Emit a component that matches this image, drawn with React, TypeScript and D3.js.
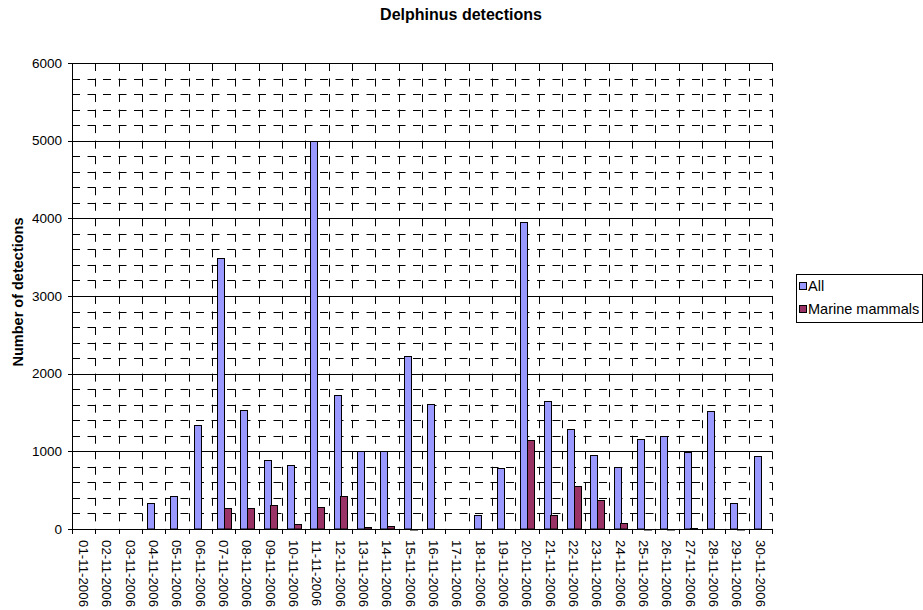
import React from 'react';
import * as d3 from 'd3';

// Daily detection counts, November 2006
const dates = [
  '01-11-2006', '02-11-2006', '03-11-2006', '04-11-2006', '05-11-2006',
  '06-11-2006', '07-11-2006', '08-11-2006', '09-11-2006', '10-11-2006',
  '11-11-2006', '12-11-2006', '13-11-2006', '14-11-2006', '15-11-2006',
  '16-11-2006', '17-11-2006', '18-11-2006', '19-11-2006', '20-11-2006',
  '21-11-2006', '22-11-2006', '23-11-2006', '24-11-2006', '25-11-2006',
  '26-11-2006', '27-11-2006', '28-11-2006', '29-11-2006', '30-11-2006',
];
const seriesNames = ['All', 'Marine mammals'];
const allDetections = [
  0, 0, 0, 330, 420, 1340, 3490, 1530, 890, 820,
  5000, 1720, 1000, 1000, 2230, 1610, 0, 175, 785, 3955,
  1650, 1290, 955, 800, 1160, 1195, 990, 1515, 335, 940,
];
const marineMammals = [
  0, 0, 0, 0, 0, 0, 265, 265, 310, 60,
  280, 430, 25, 40, 5, 0, 0, 0, 0, 1145,
  180, 550, 375, 80, 3, 3, 18, 0, 2, 0,
];
const yTicks = [0, 1000, 2000, 3000, 4000, 5000, 6000];
const seriesColors = ['#9999FF', '#993366'];

const FONT = '"Liberation Sans", Arial, sans-serif';

export default function App() {
  const width = 923;
  const height = 610;
  const plot = { left: 72, right: 772, top: 63, bottom: 529 };

  const x = d3.scaleBand<string>().domain(dates).range([plot.left, plot.right]);
  const band = x.bandwidth();
  const barW = band / 3.5;
  const xs = d3
    .scaleBand<string>()
    .domain(seriesNames)
    .range([barW * 0.75, barW * 2.75]);
  const y = d3.scaleLinear().domain([0, 6000]).range([plot.bottom, plot.top]);

  const minorTicks = d3.range(200, 6000, 200).filter((v) => v % 1000 !== 0);
  const boundaries = d3.range(1, dates.length + 1).map((i) => plot.left + i * band);
  const tickBoundaries = d3.range(0, dates.length + 1).map((i) => plot.left + i * band);

  const series = [allDetections, marineMammals];

  const legend = { x: 796.5, y: 274.5, w: 126, h: 48, row: 23.3, base: 290.7 };

  return (
    <svg
      width={width}
      height={height}
      style={{ position: 'absolute', left: 0, top: 0, background: '#fff' }}
      fontFamily={FONT}
    >
      {/* title */}
      <text x={461} y={20} textAnchor="middle" fontSize={16} fontWeight="bold" fill="#000">
        Delphinus detections
      </text>

      {/* minor horizontal grid */}
      {minorTicks.map((v) => (
        <line
          key={'mh' + v}
          x1={plot.left}
          x2={plot.right}
          y1={Math.round(y(v)) + 0.5}
          y2={Math.round(y(v)) + 0.5}
          stroke="#000"
          strokeWidth={1}
          strokeDasharray="8 7.5"
        />
      ))}
      {/* vertical category grid */}
      {boundaries.map((bx, i) => (
        <line
          key={'vg' + i}
          x1={Math.round(bx) + 0.5}
          x2={Math.round(bx) + 0.5}
          y1={plot.top}
          y2={plot.bottom}
          stroke="#000"
          strokeWidth={1}
          strokeDasharray="8 7.53"
        />
      ))}
      {/* major horizontal grid */}
      {yTicks.slice(1).map((v) => (
        <line
          key={'mj' + v}
          x1={plot.left}
          x2={plot.right}
          y1={Math.round(y(v)) + 0.5}
          y2={Math.round(y(v)) + 0.5}
          stroke="#000"
          strokeWidth={1}
        />
      ))}

      {/* bars */}
      {series.map((vals, si) =>
        vals.map((v, i) => {
          if (v <= 0) return null;
          const bx = Math.round((x(dates[i]) as number) + (xs(seriesNames[si]) as number)) + 0.5;
          const w = Math.round(xs.bandwidth());
          const top = Math.round(y(v)) + 0.5;
          const h = Math.max(y(0) - top, 0.5);
          return (
            <rect
              key={`b${si}-${i}`}
              x={bx}
              y={top}
              width={w}
              height={h}
              fill={seriesColors[si]}
              stroke="#000"
              strokeWidth={1}
            />
          );
        })
      )}

      {/* y axis */}
      <line
        x1={plot.left + 0.5}
        x2={plot.left + 0.5}
        y1={plot.top}
        y2={plot.bottom + 0.5}
        stroke="#000"
        strokeWidth={1}
      />
      {yTicks.map((v) => (
        <g key={'yt' + v}>
          <line
            x1={plot.left - 4}
            x2={plot.left}
            y1={Math.round(y(v)) + 0.5}
            y2={Math.round(y(v)) + 0.5}
            stroke="#000"
          />
          <text
            x={62}
            y={y(v)}
            dy="0.35em"
            textAnchor="end"
            fontSize={13.5}
            fill="#000"
          >
            {v}
          </text>
        </g>
      ))}

      {/* x axis */}
      <line
        x1={plot.left}
        x2={plot.right}
        y1={plot.bottom + 0.5}
        y2={plot.bottom + 0.5}
        stroke="#000"
        strokeWidth={1}
      />
      {tickBoundaries.map((bx, i) => (
        <line
          key={'xt' + i}
          x1={Math.round(bx) + 0.5}
          x2={Math.round(bx) + 0.5}
          y1={plot.bottom}
          y2={plot.bottom + 5}
          stroke="#000"
        />
      ))}
      {dates.map((d) => {
        const cx = (x(d) as number) + band / 2;
        return (
          <text
            key={'xl' + d}
            transform={`translate(${cx},540) rotate(90)`}
            dy="0.35em"
            fontSize={13.3}
            fill="#000"
          >
            {d}
          </text>
        );
      })}

      {/* y axis title */}
      <text
        transform={`translate(23,292) rotate(-90)`}
        textAnchor="middle"
        fontSize={14.5}
        fontWeight="bold"
        fill="#000"
      >
        Number of detections
      </text>

      {/* legend */}
      <g>
        <rect
          x={legend.x}
          y={legend.y}
          width={legend.w}
          height={legend.h}
          fill="#fff"
          stroke="#000"
        />
        {seriesNames.map((name, i) => (
          <g key={'lg' + name}>
            <rect
              x={799.5}
              y={Math.round(legend.base + i * legend.row - 9) + 0.5}
              width={7}
              height={7}
              fill={seriesColors[i]}
              stroke="#000"
            />
            <text
              x={808}
              y={legend.base + i * legend.row}
              fontSize={14.5}
              fill="#000"
            >
              {name}
            </text>
          </g>
        ))}
      </g>
    </svg>
  );
}
